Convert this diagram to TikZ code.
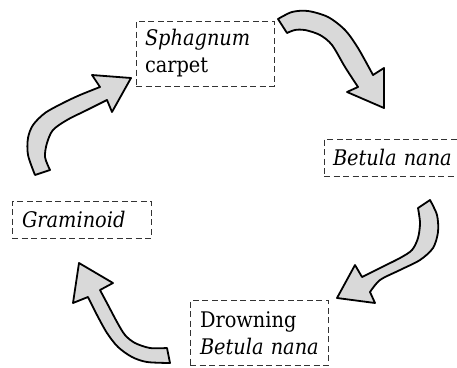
\documentclass[tikz,border=0pt]{standalone}
\usepackage{fontspec}
\setmainfont{DejaVu Serif Condensed}
\begin{document}
\begin{tikzpicture}[x=1pt,y=-1pt,
  stagebox/.style={draw=black!80, line width=0.9pt, dash pattern=on 6pt off 3.5pt,
    inner sep=0pt, align=left, font=\fontsize{21.5}{27}\selectfont},
  blockarrow/.style={draw=black, fill=gray!30, line width=1.8pt, line join=round}]
\useasboundingbox (0,0) rectangle (457,367);
% stages
\node[stagebox, minimum width=138pt, minimum height=65pt, text width=120pt] (sph) at (205,53.5) {\textit{Sphagnum}\\carpet};
\node[stagebox, minimum width=138pt, minimum height=37pt, text width=120pt] (bet) at (393,157.5) {\mbox{\textit{Betula nana}}};
\node[stagebox, minimum width=139pt, minimum height=37pt, text width=119pt] (gra) at (81.5,219.5) {\textit{Graminoid}};
\node[stagebox, minimum width=138pt, minimum height=65pt, text width=118pt] (dro) at (259,333) {Drowning\\\mbox{\textit{Betula nana}}};
% arrow 1: Sphagnum -> Betula
\draw[blockarrow] plot[smooth] coordinates {(278,19) (292,12) (308,11) (328,17) (345,30) (358,48) (373,75)}
  -- (384,68) -- (384,108) -- (347,92)
  -- plot[smooth] coordinates {(358,87) (345,67) (332,45) (320,35) (305,30) (295,30) (287,33)} -- cycle;
% arrow 2: Betula -> Drowning
\draw[blockarrow] plot[smooth] coordinates {(430,200) (437,215) (438,232) (433,248) (420,260) (400,270) (380,280) (370,292)}
  -- (375,303) -- (337,298) -- (355,265)
  -- plot[smooth] coordinates {(362,277) (380,268) (400,258) (412,250) (418,238) (420,223) (418,208)} -- cycle;
% arrow 3: Drowning -> Graminoid
\draw[blockarrow] plot[smooth] coordinates {(170,363) (147,362) (132,357) (118,347) (107,333) (97,315) (88,297)}
  -- (73,303) -- (79,263) -- (113,283)
  -- plot[smooth] coordinates {(100,290) (108,305) (117,322) (125,335) (135,343) (150,348) (167,348)} -- cycle;
% arrow 4: Graminoid -> Sphagnum
\draw[blockarrow] plot[smooth] coordinates {(35,175) (28,155) (28,138) (33,125) (45,113) (63,103) (80,95) (100,87)}
  -- (92,75) -- (131,78) -- (112,112)
  -- plot[smooth] coordinates {(107,100) (87,110) (67,120) (53,130) (47,143) (45,157) (50,170)} -- cycle;
\end{tikzpicture}
\end{document}
